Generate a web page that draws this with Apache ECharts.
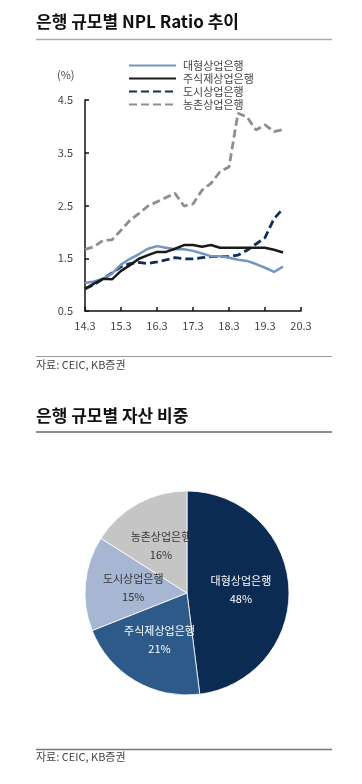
<!DOCTYPE html>
<html><head><meta charset="utf-8">
<script src="https://cdn.jsdelivr.net/npm/echarts@6/dist/echarts.min.js"></script>
<style>html,body{margin:0;padding:0;background:#fff}#c{width:362px;height:784px}</style>
</head><body><div id="c"></div>
<script>
var categories = ['14.3','14.6','14.9','14.12','15.3','15.6','15.9','15.12','16.3','16.6','16.9','16.12','17.3','17.6','17.9','17.12','18.3','18.6','18.9','18.12','19.3','19.6','19.9','19.12','20.3'];
var largeBanks = [1.03,1.06,1.11,1.21,1.38,1.49,1.58,1.68,1.73,1.70,1.67,1.67,1.64,1.59,1.54,1.54,1.51,1.47,1.45,1.39,1.32,1.24,1.34];
var jointStockBanks = [0.92,1.02,1.11,1.10,1.26,1.37,1.49,1.56,1.62,1.62,1.68,1.75,1.75,1.72,1.75,1.70,1.70,1.70,1.70,1.70,1.70,1.66,1.61];
var cityBanks = [0.92,1.00,1.11,1.22,1.34,1.40,1.42,1.40,1.43,1.47,1.51,1.49,1.49,1.51,1.53,1.53,1.53,1.56,1.65,1.77,1.89,2.25,2.44];
var ruralBanks = [1.67,1.72,1.84,1.85,2.03,2.22,2.35,2.49,2.57,2.65,2.73,2.49,2.53,2.79,2.92,3.14,3.23,4.25,4.18,3.93,4.03,3.90,3.94];
var seriesNames = ['대형상업은행','주식제상업은행','도시상업은행','농촌상업은행'];
var pieNames = ['대형상업은행','주식제상업은행','도시상업은행','농촌상업은행'];
var pieValues = [48,21,15,16];
var yTicks = [0.5,1.5,2.5,3.5,4.5];

var FONT = '"Noto Sans CJK KR", "Noto Sans", sans-serif';
var chart = echarts.init(document.getElementById('c'));
var pieColors = ['#0c2b53','#2d5a88','#a7b7d3','#c5c5c5'];
var pieLabelColors = ['#ffffff','#ffffff','#333333','#333333'];

chart.setOption({
  animation: false,
  textStyle: {fontFamily: FONT},
  graphic: [
    {type:'text', left:36, top:13, style:{text:'은행 규모별 NPL Ratio 추이', font:'bold 17px ' + FONT, fill:'#111'}},
    {type:'line', shape:{x1:36,y1:39.5,x2:332,y2:39.5}, style:{stroke:'#aaaaaa', lineWidth:1.5}},
    {type:'text', left:57, top:69, style:{text:'(%)', font:'11px ' + FONT, fill:'#444'}},
    {type:'line', shape:{x1:36,y1:356.5,x2:332,y2:356.5}, style:{stroke:'#999999', lineWidth:1}},
    {type:'text', left:36, top:359, style:{text:'자료: CEIC, KB증권', font:'11px ' + FONT, fill:'#444'}},
    {type:'text', left:36, top:407, style:{text:'은행 규모별 자산 비중', font:'bold 17px ' + FONT, fill:'#111'}},
    {type:'line', shape:{x1:36,y1:432,x2:332,y2:432}, style:{stroke:'#666666', lineWidth:1.5}},
    {type:'line', shape:{x1:36,y1:749.5,x2:332,y2:749.5}, style:{stroke:'#777777', lineWidth:1.5}},
    {type:'text', left:36, top:751, style:{text:'자료: CEIC, KB증권', font:'11px ' + FONT, fill:'#444'}}
  ],
  legend: {
    orient:'vertical', left:123, top:55, itemWidth:47, itemHeight:10, itemGap:2,
    data: seriesNames,
    itemStyle:{opacity:0},
    textStyle:{fontSize:11, color:'#444', fontFamily:FONT, padding:[0,0,0,2]}
  },
  grid: {left:85, right:61, top:100, bottom:473, containLabel:false},
  xAxis: {
    type:'category', data:categories, boundaryGap:false,
    axisLine:{lineStyle:{color:'#111', width:1.5}},
    axisTick:{inside:true, length:4, interval:3, lineStyle:{color:'#111', width:1.5}},
    axisLabel:{interval:3, color:'#444', fontSize:11, margin:9, fontFamily:FONT},
    splitLine:{show:false}
  },
  yAxis: {
    type:'value', min:0.5, max:4.5, interval:1,
    axisLine:{show:true, lineStyle:{color:'#111', width:1.5}},
    axisTick:{show:true, inside:true, length:4, lineStyle:{color:'#111', width:1.5}},
    axisLabel:{color:'#444', fontSize:11, margin:12, fontFamily:FONT, formatter:function(v){return v.toFixed(1);}},
    splitLine:{show:false}
  },
  series: [
    {name:seriesNames[0], type:'line', data:largeBanks, symbol:'none', lineStyle:{color:'#7395c0', width:2.5}, itemStyle:{color:'#7395c0'}, z:3},
    {name:seriesNames[1], type:'line', data:jointStockBanks, symbol:'none', lineStyle:{color:'#1a1a1a', width:2.5}, itemStyle:{color:'#1a1a1a'}, z:4},
    {name:seriesNames[2], type:'line', data:cityBanks, symbol:'none', lineStyle:{color:'#0e2f58', width:2.8, type:[8,4]}, itemStyle:{color:'#0e2f58'}, z:2},
    {name:seriesNames[3], type:'line', data:ruralBanks, symbol:'none', lineStyle:{color:'#8e8e8e', width:2.8, type:[8,4]}, itemStyle:{color:'#8e8e8e'}, z:2},
    {
      type:'pie', center:[187,593], radius:[0,102], startAngle:90, clockwise:true,
      legendHoverLink:false, selectedMode:false,
      data: pieNames.map(function(n,i){return {name:n, value:pieValues[i], itemStyle:{color:pieColors[i]}, label:{color:pieLabelColors[i]}};}),
      itemStyle:{borderColor:'#ffffff', borderWidth:0.8},
      label:{show:true, position:'inside', fontSize:11, lineHeight:18, fontFamily:FONT,
        formatter:function(p){return p.name + '\n' + p.value + '%';}},
      labelLine:{show:false}
    }
  ]
});
</script></body></html>
